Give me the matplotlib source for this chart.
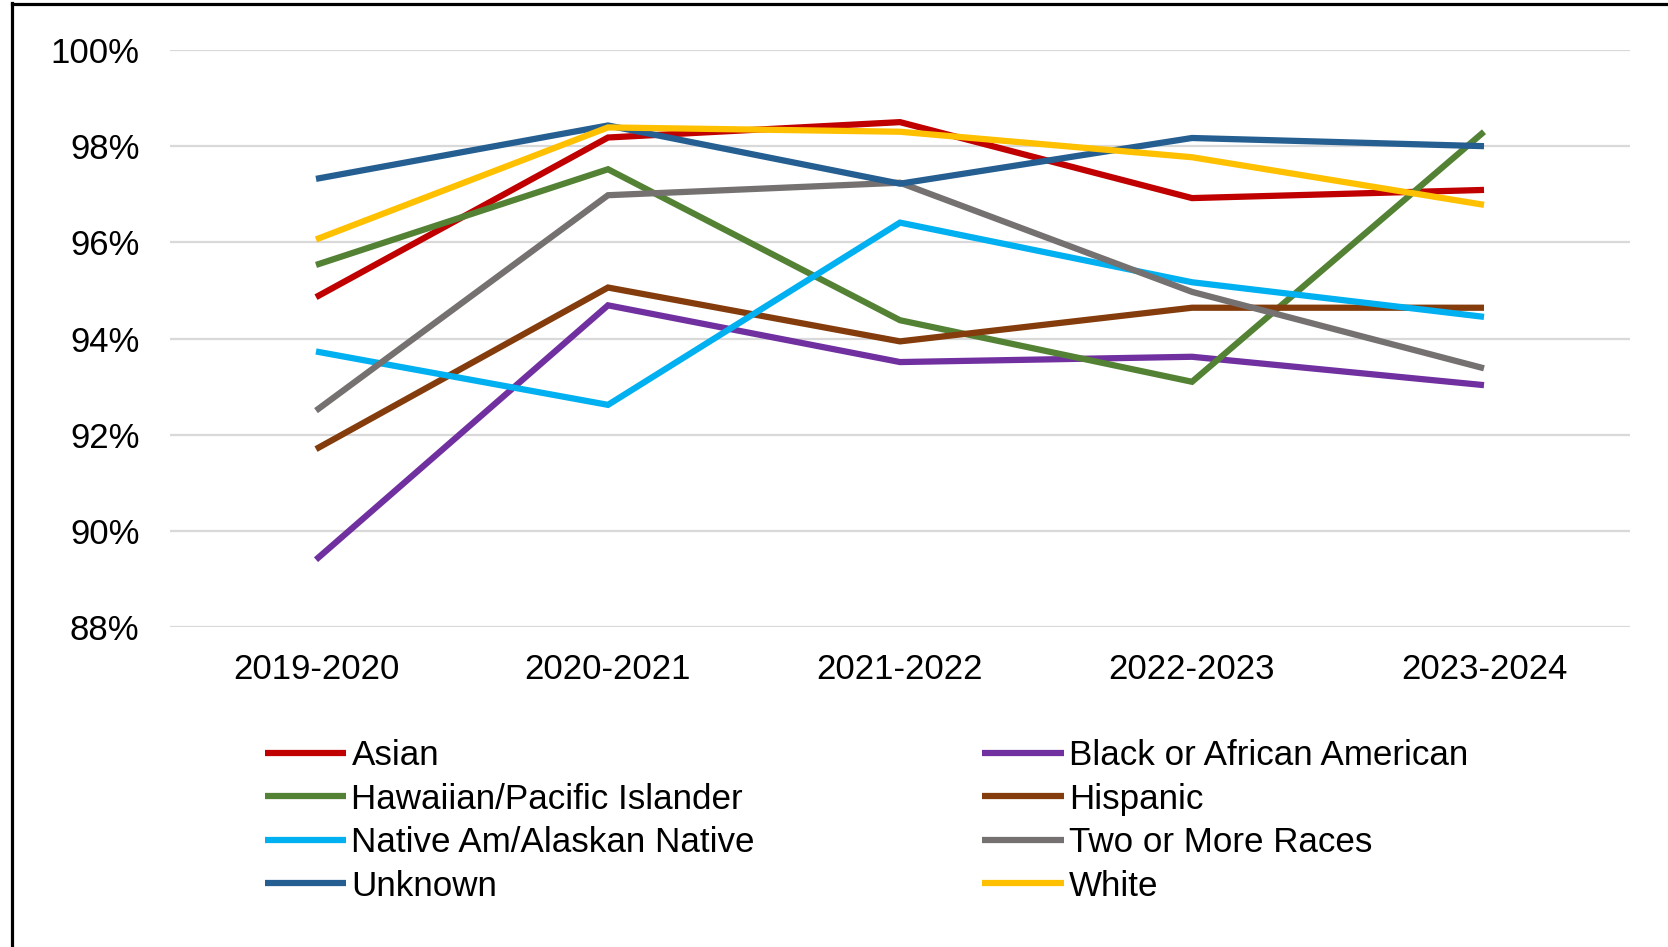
import matplotlib.pyplot as plt
from matplotlib.lines import Line2D
from matplotlib.ticker import PercentFormatter

plt.rcParams['font.family'] = ['Liberation Sans', 'DejaVu Sans']

years = ["2019-2020", "2020-2021", "2021-2022", "2022-2023", "2023-2024"]

asian = [94.86, 98.18, 98.50, 96.92, 97.09]
black = [89.40, 94.69, 93.51, 93.62, 93.03]
hawaiian = [95.53, 97.52, 94.38, 93.10, 98.30]
hispanic = [91.70, 95.06, 93.94, 94.64, 94.64]
native = [93.73, 92.62, 96.41, 95.17, 94.45]
two_more = [92.50, 96.98, 97.24, 94.97, 93.38]
unknown = [97.32, 98.43, 97.22, 98.17, 98.00]
white = [96.06, 98.39, 98.30, 97.77, 96.78]

series = [
    ("Asian", asian, "#C00000"),
    ("Black or African American", black, "#7030A0"),
    ("Hawaiian/Pacific Islander", hawaiian, "#548235"),
    ("Hispanic", hispanic, "#843C0C"),
    ("Native Am/Alaskan Native", native, "#00B0F0"),
    ("Two or More Races", two_more, "#767171"),
    ("Unknown", unknown, "#255E91"),
    ("White", white, "#FFC000"),
]

W, H = 1668, 947
fig = plt.figure(figsize=(W / 100, H / 100), dpi=100)
ax = fig.add_axes([170 / W, 1 - 627 / H, 1460 / W, 577 / H])

x = range(len(years))
handles = []
for name, vals, color in series:
    h, = ax.plot(x, vals, color=color, linewidth=4.5, label=name,
                 solid_joinstyle='miter', solid_capstyle='butt')
    handles.append(h)

ax.set_xlim(-0.5, 4.5)
ax.set_ylim(88, 100)
ax.set_yticks([88, 90, 92, 94, 96, 98, 100])
ax.yaxis.set_major_formatter(PercentFormatter(decimals=0))
ax.set_xticks(list(x))
ax.set_xticklabels(years)
ax.tick_params(axis='both', length=0, labelsize=25, colors='#000000')
ax.tick_params(axis='y', pad=22)
ax.tick_params(axis='x', pad=19)
ax.grid(axis='y', color='#d9d9d9', linewidth=1.6)
ax.set_axisbelow(True)
for s in ax.spines.values():
    s.set_visible(False)

# legend is filled column-wise, so reorder to get the row layout
order = [0, 2, 4, 6, 1, 3, 5, 7]
fig.legend([handles[i] for i in order], [series[i][0] for i in order],
           loc='upper left', bbox_to_anchor=(265 / W, 1 - 739 / H),
           ncol=2, frameon=False, fontsize=25.2, handlelength=2.32,
           handletextpad=0.15, columnspacing=6.5, labelspacing=0.3,
           borderpad=0, borderaxespad=0)

# frame only on top and left, like the source image
fig.add_artist(Line2D([11.5 / W, 1], [1 - 4.5 / H, 1 - 4.5 / H],
                      transform=fig.transFigure, color='black', linewidth=2.3))
fig.add_artist(Line2D([11.5 / W, 11.5 / W], [0, 1 - 3.5 / H],
                      transform=fig.transFigure, color='black', linewidth=2.3))

fig.savefig("out.png", dpi=100)
